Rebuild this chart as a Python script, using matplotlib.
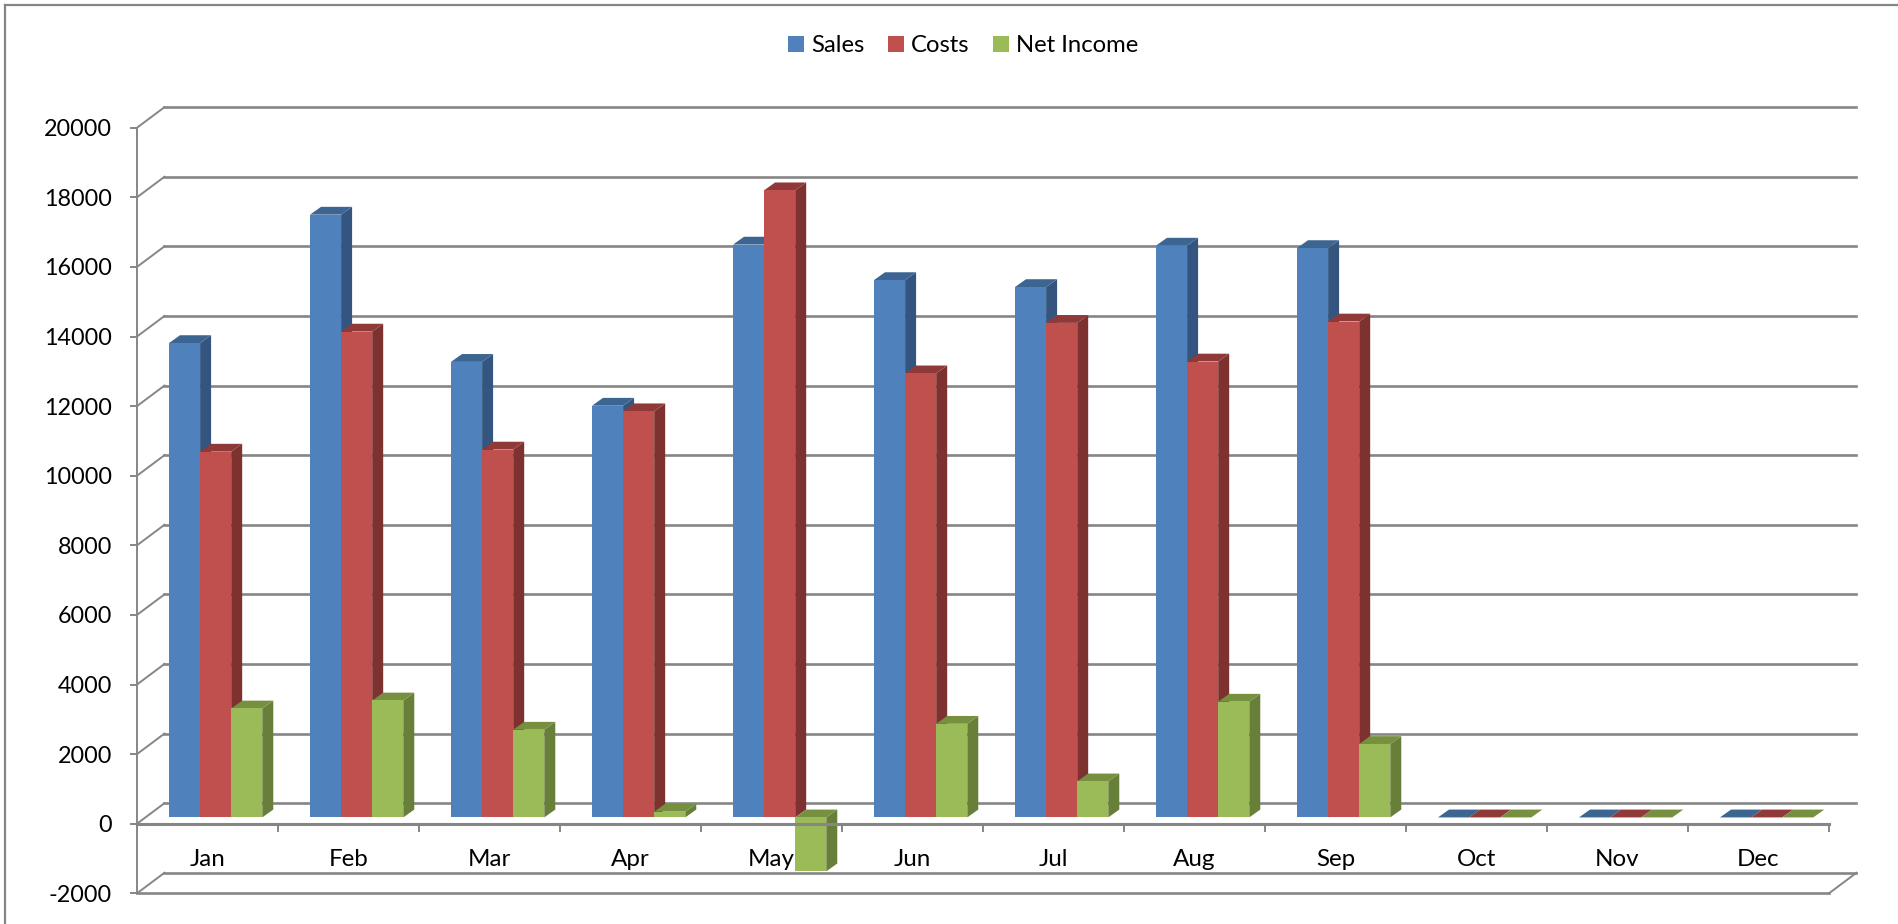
import matplotlib
matplotlib.use("Agg")
import matplotlib.pyplot as plt
from matplotlib.lines import Line2D

plt.rcParams["font.family"] = ["Lato", "DejaVu Sans"]

MESES = ["Jan", "Feb", "Mar", "Apr", "May", "Jun", "Jul", "Aug", "Sep", "Oct", "Nov", "Dec"]
SALES = [13630, 17320, 13090, 11830, 16460, 15440, 15240, 16430, 16360, 0, 0, 0]
COSTS = [10510, 13960, 10570, 11670, 18020, 12760, 14210, 13100, 14250, 0, 0, 0]
NET_INCOME = [3130, 3360, 2520, 165, -1550, 2690, 1035, 3325, 2110, 0, 0, 0]
Y_TICKS = [-2000, 0, 2000, 4000, 6000, 8000, 10000, 12000, 14000, 16000, 18000, 20000]

GRIS = "#868686"

# profundidade do "3D" em unidades dos eixos
FUNDO_X = 0.195
FUNDO_Y = 590
BASE_X = 0.227
BASE_Y = 181
LARGURA = 0.2205
BARRA_X = 0.078
BARRA_Y = 225

fig = plt.figure(figsize=(18.99, 9.24), dpi=100)
ax = fig.add_axes([137 / 1899, 1 - 893.3 / 924, (1829 - 137) / 1899, (893.3 - 127.7) / 924])
ax.set_xlim(0, 12)
ax.set_ylim(-2000, 20000)


# ============================================================
# PAREDE DO FUNDO
# ============================================================

for v in Y_TICKS:
    ax.plot([FUNDO_X, 12 + FUNDO_X], [v + FUNDO_Y, v + FUNDO_Y], color=GRIS, lw=1.9, zorder=1, clip_on=False)
    ax.plot([0, FUNDO_X], [v, v + FUNDO_Y], color=GRIS, lw=1.4, zorder=1, clip_on=False)

ax.plot([0, 12], [-2000, -2000], color=GRIS, lw=1.9, zorder=1, clip_on=False)
ax.plot([12, 12 + FUNDO_X], [-2000, -2000 + FUNDO_Y], color=GRIS, lw=1.4, zorder=1, clip_on=False)


# ============================================================
# BARRAS
# ============================================================

series = [
    ("Sales", SALES, "#4F81BD", "#3D6592", "#33557F"),
    ("Costs", COSTS, "#C0504D", "#8F3A38", "#7D3230"),
    ("Net Income", NET_INCOME, "#9BBB59", "#76903F", "#677F38"),
]

for i in range(len(MESES)):
    for j, (nome, valores, cor, cor_topo, cor_lado) in enumerate(series):
        x = i + BASE_X + j * LARGURA
        v = valores[i]
        topo = BASE_Y + max(v, 0)
        fim = BASE_Y + min(v, 0)
        z = 3 + i * 3 + j * 0.1

        ax.fill(
            [x + LARGURA, x + LARGURA + BARRA_X, x + LARGURA + BARRA_X, x + LARGURA],
            [fim, fim + BARRA_Y, topo + BARRA_Y, topo],
            color=cor_lado, lw=0, zorder=z, clip_on=False
        )
        ax.fill(
            [x, x + LARGURA, x + LARGURA + BARRA_X, x + BARRA_X],
            [topo, topo, topo + BARRA_Y, topo + BARRA_Y],
            color=cor_topo, lw=0, zorder=z, clip_on=False
        )
        ax.bar(
            x, v, LARGURA, bottom=BASE_Y, align="edge",
            color=cor, lw=0, zorder=z + 0.01, clip_on=False,
            label=nome if i == 0 else None
        )


# ============================================================
# EIXOS
# ============================================================

for lado in ["top", "right"]:
    ax.spines[lado].set_visible(False)

ax.spines["left"].set_color(GRIS)
ax.spines["left"].set_linewidth(1.4)
ax.spines["bottom"].set_color(GRIS)
ax.spines["bottom"].set_linewidth(2.2)
ax.spines["bottom"].set_position(("data", 0))
ax.spines["bottom"].set_zorder(60)

ax.set_yticks(Y_TICKS)
ax.set_yticklabels([str(v) for v in Y_TICKS])
ax.tick_params(axis="y", length=5, width=1.4, color=GRIS, labelsize=16.8, pad=13, labelcolor="black")

ax.set_xticks(range(1, 13))
ax.set_xticklabels([])
ax.set_xticks([i + 0.5 for i in range(12)], minor=True)
ax.set_xticklabels(MESES, minor=True)
ax.tick_params(axis="x", which="major", length=6, width=1.4, color=GRIS)
ax.tick_params(axis="x", which="minor", length=0, labelsize=17.4, pad=18, labelcolor="black")


# ============================================================
# LEGENDA E MOLDURA
# ============================================================

ax.legend(
    loc="center", bbox_to_anchor=(963 / 1899, 1 - 46 / 924), bbox_transform=fig.transFigure,
    ncol=3, frameon=False, fontsize=17.2,
    handlelength=0.68, handleheight=0.68, handletextpad=0.27, columnspacing=1.0
)

fig.add_artist(Line2D([5 / 1899, 1], [1 - 5 / 924, 1 - 5 / 924], color=GRIS, lw=1.6))
fig.add_artist(Line2D([5 / 1899, 5 / 1899], [0, 1 - 5 / 924], color=GRIS, lw=1.6))

plt.savefig("out.png", dpi=100)
plt.close()
